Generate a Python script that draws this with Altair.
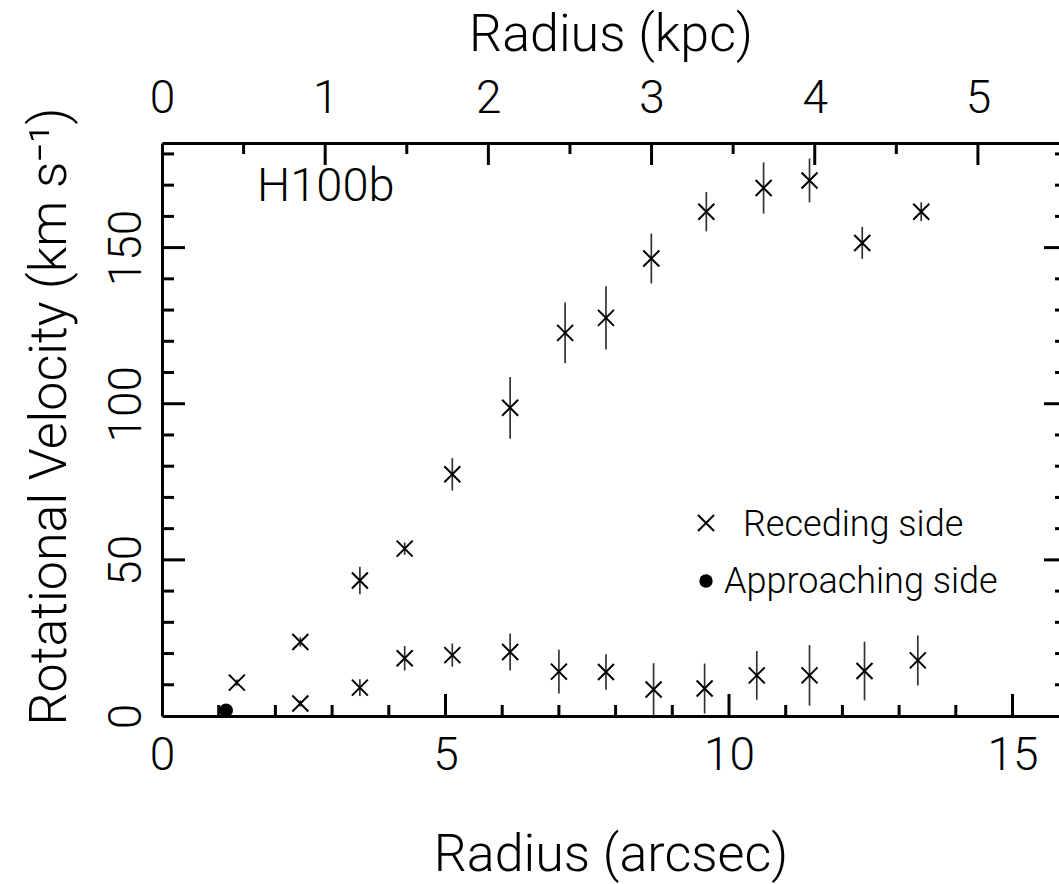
import altair as alt
import pandas as pd

# Rotation curve, receding side (upper branch): radius [arcsec], velocity and error [km/s]
rec_r = [1.32, 2.44, 3.49, 4.28, 5.12, 6.14, 7.11, 7.83, 8.63, 9.60, 10.61, 11.42, 12.35, 13.39]
rec_v = [10.7, 23.7, 43.4, 53.6, 77.4, 98.7, 122.7, 127.5, 146.5, 161.5, 169.1, 171.5, 151.5, 161.5]
rec_e = [1.0, 1.5, 4.4, 2.0, 5.2, 9.9, 9.7, 10.1, 8.0, 6.3, 8.2, 7.0, 5.1, 3.0]

# Lower branch, same symbol
low_r = [2.44, 3.49, 4.28, 5.12, 6.14, 7.00, 7.83, 8.67, 9.57, 10.49, 11.42, 12.39, 13.33]
low_v = [4.0, 9.1, 18.5, 19.5, 20.5, 14.2, 14.1, 8.5, 8.8, 13.0, 13.0, 14.4, 17.8]
low_e = [1.0, 2.7, 3.9, 3.7, 5.9, 7.0, 5.7, 8.4, 8.0, 7.8, 9.7, 9.4, 8.0]

# Approaching side
app_r = [1.13]
app_v = [1.8]

# Axis ticks
arcsec_major = [5, 10, 15]
arcsec_minor = [1, 2, 3, 4, 6, 7, 8, 9, 11, 12, 13, 14]
vel_major = [50, 100, 150]
vel_minor = [10, 20, 30, 40, 60, 70, 80, 90, 110, 120, 130, 140, 160, 170, 180]
kpc_major = [1, 2, 3, 4, 5]
kpc_minor = [0.5, 1.5, 2.5, 3.5, 4.5]
arcsec_labels = [0, 5, 10, 15]
vel_labels = [0, 50, 100, 150]
kpc_labels = [0, 1, 2, 3, 4, 5]

legend_labels = ["Receding side", "Approaching side"]
galaxy = "H100b"

ARCSEC_PER_KPC = 2.878
W, H = 897, 573
XMAX = 15.82
YMAX = 183.5
FONT = "Roboto"
MAJ, MIN = 23, 12
SX = "M-1,-1L1,1M-1,1L1,-1"

xs = alt.Scale(domain=[0, XMAX], nice=False, zero=False)
ys = alt.Scale(domain=[0, YMAX], nice=False, zero=False)

x_axis = alt.Axis(
    values=arcsec_labels, format="d", title="Radius (arcsec)",
    ticks=False, grid=False, domain=True, domainColor="black", domainWidth=3,
    labelFontSize=46, labelBaseline="alphabetic", labelPadding=53, labelFlush=False,
    titleFontSize=52, titleY=154, titleBaseline="alphabetic",
)
y_axis = alt.Axis(
    values=vel_labels, format="d", title="Rotational Velocity (km s\u207b\u00b9)",
    ticks=False, grid=False, domain=True, domainColor="black", domainWidth=3,
    labelFontSize=46, labelAngle=270, labelAlign="center", labelBaseline="alphabetic",
    labelPadding=22, labelFlush=False,
    titleFontSize=52, titleAngle=270, titleX=-97, titleY=273,
    titleAlign="center", titleBaseline="alphabetic",
)
k_axis = alt.Axis(
    orient="top", values=kpc_labels, format="d", title="Radius (kpc)",
    ticks=False, grid=False, domain=True, domainColor="black", domainWidth=3,
    labelFontSize=46, labelBaseline="alphabetic", labelPadding=31, labelFlush=False,
    titleFontSize=52, titleY=-93, titleBaseline="alphabetic",
)


def X(field):
    return alt.X(f"{field}:Q", scale=xs, axis=x_axis)


def Y(field):
    return alt.Y(f"{field}:Q", scale=ys, axis=y_axis)


rec = pd.DataFrame({"r": rec_r, "v": rec_v, "e": rec_e})
low = pd.DataFrame({"r": low_r, "v": low_v, "e": low_e})
pts = pd.concat([rec, low], ignore_index=True)
pts["lo"] = pts["v"] - pts["e"]
pts["hi"] = pts["v"] + pts["e"]
app = pd.DataFrame({"r": app_r, "v": app_v})

bars = alt.Chart(pts).mark_rule(color="#333333", strokeWidth=1.7).encode(
    x=X("r"), y=Y("lo"), y2="hi"
)
crosses = alt.Chart(pts).mark_point(
    shape=SX, size=256, filled=False, stroke="black", strokeWidth=2, opacity=1
).encode(x=X("r"), y=Y("v"))
dots = alt.Chart(app).mark_point(
    shape="circle", size=190, filled=True, color="black", opacity=1
).encode(x=X("r"), y=Y("v"))


def xticks(vals, length):
    return alt.Chart(pd.DataFrame({"r": vals})).mark_rule(
        color="black", strokeWidth=3
    ).encode(x=X("r"), y=alt.value(H), y2=alt.value(H - length))


def yticks(vals, length, x0, sign):
    return alt.Chart(pd.DataFrame({"v": vals})).mark_rule(
        color="black", strokeWidth=3
    ).encode(y=Y("v"), x=alt.value(x0), x2=alt.value(x0 + sign * length))


RIGHT = W + 8  # right frame edge sits just past the page edge

leg = pd.DataFrame({"label": legend_labels})
leg_cross = alt.Chart(leg.iloc[[0]]).mark_point(
    shape=SX, size=256, filled=False, stroke="black", strokeWidth=2, opacity=1
).encode(x=alt.value(706 - 162), y=alt.value(523 - 143))
leg_dot = alt.Chart(leg.iloc[[1]]).mark_point(
    shape="circle", size=180, filled=True, color="black", opacity=1
).encode(x=alt.value(706 - 162), y=alt.value(581 - 143))
leg_t1 = alt.Chart(leg.iloc[[0]]).mark_text(
    align="left", baseline="alphabetic", fontSize=36, font=FONT, fontWeight=300, color="black"
).encode(x=alt.value(743 - 162), y=alt.value(536 - 143), text="label:N")
leg_t2 = alt.Chart(leg.iloc[[1]]).mark_text(
    align="left", baseline="alphabetic", fontSize=36, font=FONT, fontWeight=300, color="black"
).encode(x=alt.value(724 - 162), y=alt.value(593 - 143), text="label:N")
name = alt.Chart(pd.DataFrame({"t": [galaxy]})).mark_text(
    align="left", baseline="alphabetic", fontSize=47, font=FONT, fontWeight=300, color="black"
).encode(x=alt.value(257 - 162), y=alt.value(201 - 143), text="t:N")

arcsec_layer = alt.layer(
    bars, crosses, dots,
    xticks(arcsec_major, MAJ - 1), xticks(arcsec_minor, MIN - 1),
    yticks(vel_major, MAJ, 0, 1), yticks(vel_minor, MIN, 0, 1),
    yticks(vel_major, MAJ, RIGHT, -1), yticks(vel_minor, MIN, RIGHT, -1),
    leg_cross, leg_dot, leg_t1, leg_t2, name,
)

ks = alt.Scale(domain=[0, XMAX / ARCSEC_PER_KPC], nice=False, zero=False)


def kticks(vals, length):
    return alt.Chart(pd.DataFrame({"k": vals})).mark_rule(
        color="black", strokeWidth=3
    ).encode(x=alt.X("k:Q", scale=ks, axis=k_axis), y=alt.value(0), y2=alt.value(length))


kpc_layer = alt.layer(kticks(kpc_major, MAJ - 1), kticks(kpc_minor, MIN - 1))

chart = (
    alt.layer(arcsec_layer, kpc_layer)
    .resolve_scale(x="independent")
    .properties(
        width=W, height=H,
        autosize=alt.AutoSizeParams(type="none"),
        padding={"left": 162, "top": 143, "right": 0, "bottom": 884 - 143 - H},
        background="white",
    )
    .configure_view(strokeWidth=0)
    .configure_axis(
        labelFont=FONT, titleFont=FONT, labelFontWeight=300, titleFontWeight=300,
        labelColor="black", titleColor="black",
    )
)

chart.save("out.html", embed_options={"renderer": "svg", "actions": False})
